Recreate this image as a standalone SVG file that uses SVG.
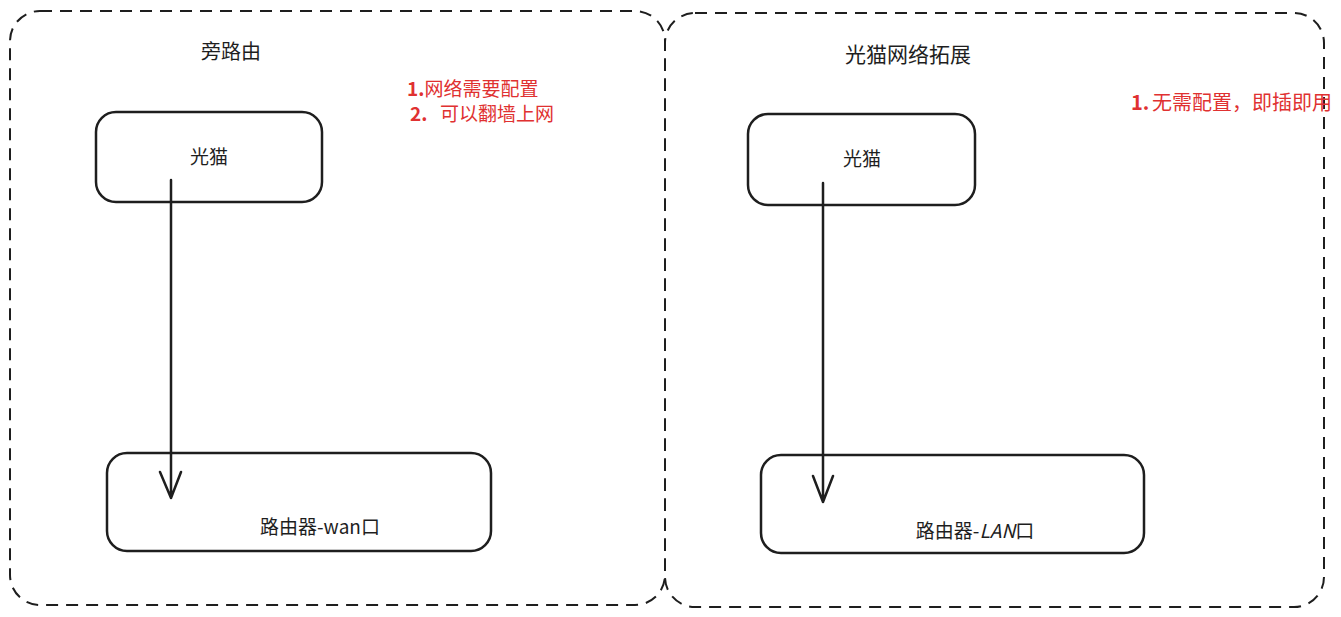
<svg xmlns="http://www.w3.org/2000/svg" width="1341" height="617" viewBox="0 0 1341 617">
<style>
.cont{fill:none;stroke:#1e1e1e;stroke-width:2;stroke-dasharray:12 8;}
.box{fill:#fff;stroke:#1e1e1e;stroke-width:2.5;}
.t{font-family:"Noto Sans CJK SC","Liberation Sans",sans-serif;font-size:19px;fill:#1e1e1e;}
.r{font-family:"Noto Sans CJK SC","Liberation Sans",sans-serif;font-size:19px;fill:#e03131;}
.ln{fill:none;stroke:#1e1e1e;stroke-width:2.5;stroke-linecap:round;stroke-linejoin:round;}
</style>
<rect width="1341" height="617" fill="#fff"/>
<g id="container-left"><rect class="cont" x="10" y="11" width="655" height="594" rx="30"/><text class="t" x="231" y="59" text-anchor="middle" style="font-size:20px">旁路由</text></g>
<g id="container-right"><rect class="cont" x="665" y="13" width="659" height="594" rx="30"/><text class="t" x="908" y="62" text-anchor="middle" style="font-size:21px">光猫网络拓展</text></g>
<g id="note-left"><text class="r" x="407" y="96"><tspan font-weight="bold">1.</tspan>网络需要配置</text><text class="r" x="410" y="121"><tspan font-weight="bold">2.</tspan><tspan x="440">可以翻墙上网</tspan></text></g>
<g id="note-right"><text class="r" x="1131" y="110" style="font-size:20px"><tspan font-weight="bold">1.</tspan><tspan x="1152">无需配置，即插即用</tspan></text></g>
<g id="modem-left"><rect class="box" x="96" y="112" width="226" height="90" rx="20"/><text class="t" x="209" y="164" text-anchor="middle">光猫</text></g>
<g id="router-left"><rect class="box" x="107" y="453" width="384" height="98" rx="20"/><text class="t" x="320" y="534" text-anchor="middle">路由器-wan口</text></g>
<g id="modem-right"><rect class="box" x="748" y="114" width="227" height="91" rx="20"/><text class="t" x="862" y="166" text-anchor="middle">光猫</text></g>
<g id="router-right"><rect class="box" x="761" y="455" width="383" height="98" rx="20"/><text class="t" x="975" y="538" text-anchor="middle">路由器-<tspan font-style="italic">LAN</tspan>口</text></g>
<g id="connectors">
<path class="ln" d="M171 180 L171 498 M160 472 L171 498 L181 472"/>
<path class="ln" d="M823 183 L823 502 M813 476 L823 502 L833 476"/>
</g>
</svg>
